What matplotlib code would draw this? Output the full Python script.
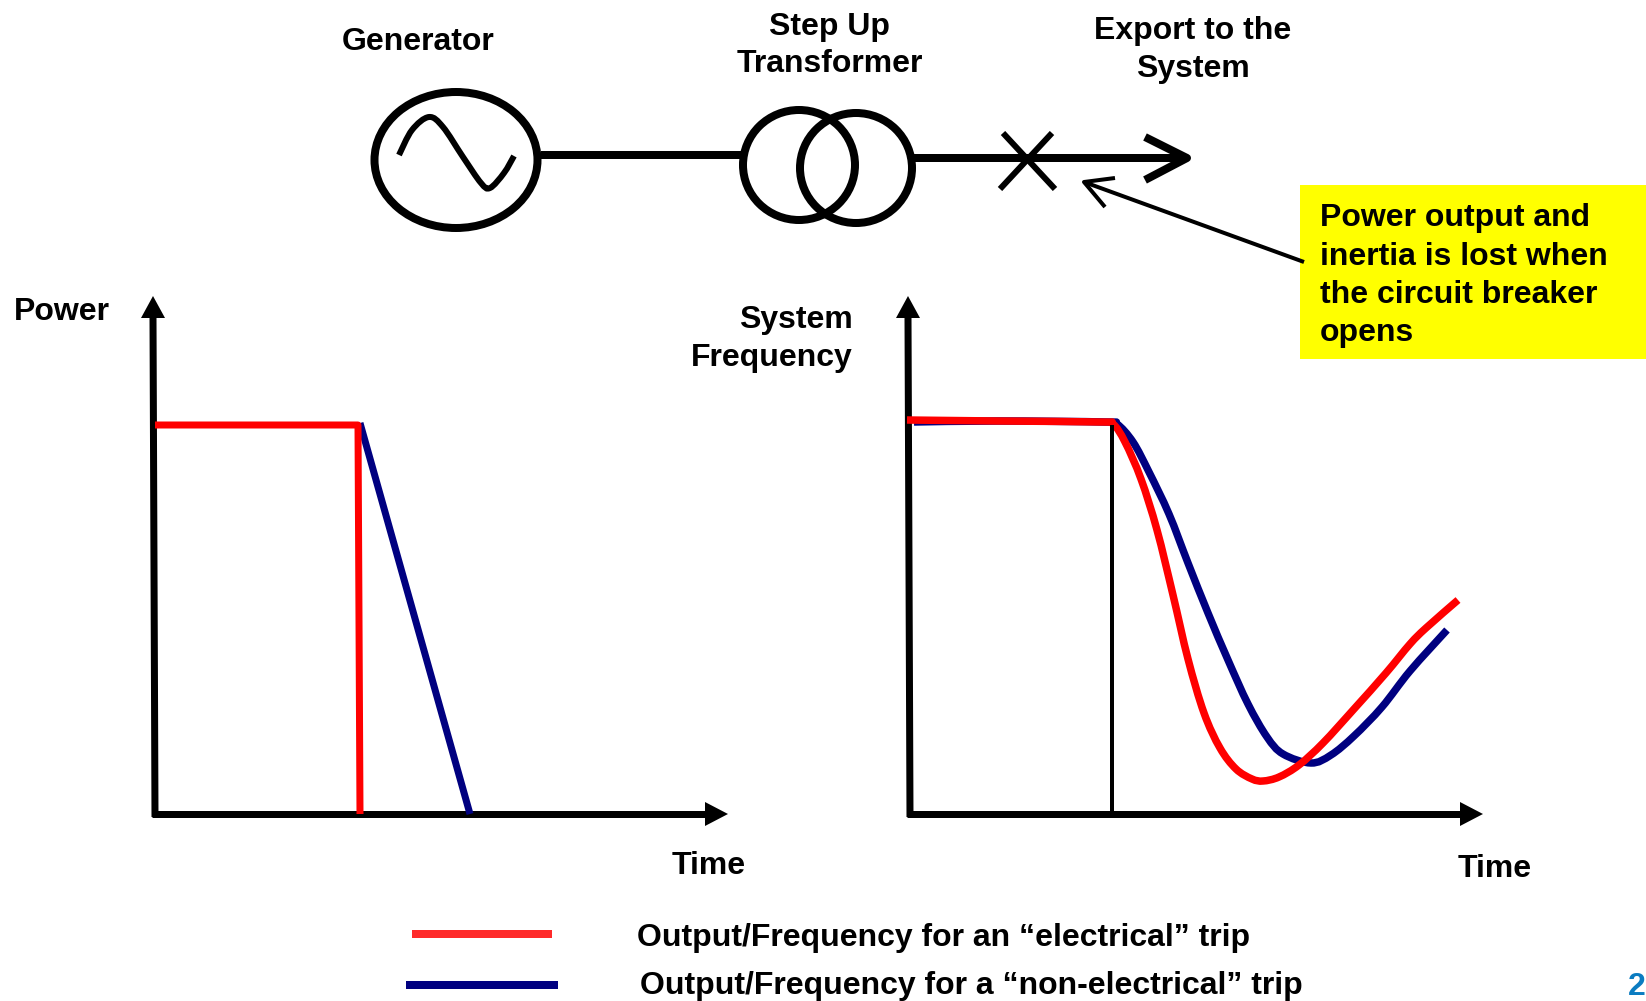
import matplotlib
matplotlib.use("Agg")
import matplotlib.pyplot as plt
from matplotlib.patches import Ellipse, PathPatch, Rectangle
from matplotlib.path import Path

W, H = 1646, 1001
RED = "#ff0000"
NAVY = "#000080"

# left panel, offsets from the axes origin in pixels
power_elec_t = [0, 203, 205]
power_elec_v = [389, 389, 0]
power_non_t = [205, 315]
power_non_v = [391, 0]

# right panel
freq_elec_t = [-3, 88, 190, 203, 215, 231, 247, 263, 278, 294, 310, 326, 342, 353, 369, 389, 413, 444, 476, 500, 516, 548]
freq_elec_v = [394, 393, 392, 390, 372, 335, 284, 219, 155, 101, 66, 45, 35, 33, 37, 49, 71, 105, 141, 170, 186, 214]
freq_non_t = [4, 88, 195, 207, 223, 239, 259, 278, 298, 318, 338, 357, 373, 401, 421, 444, 472, 500, 537]
freq_non_v = [392, 393, 392, 390, 372, 342, 300, 251, 201, 154, 110, 77, 60, 51, 59, 78, 107, 143, 184]
trip_t = 202
trip_v = 389

sine_x = [399, 412, 429, 443, 463, 481, 490, 504, 514]
sine_y = [155, 130, 117, 127, 157, 183, 188, 173, 156]

legend_labels = ["Output/Frequency for an \u201celectrical\u201d trip",
                 "Output/Frequency for a \u201cnon-electrical\u201d trip"]

plt.rcParams["font.family"] = ["Liberation Sans", "DejaVu Sans"]
plt.rcParams["font.weight"] = "bold"
FS = 23

fig = plt.figure(figsize=(W / 100, H / 100), dpi=100)
ax = fig.add_axes([0, 0, 1, 1])
ax.set_xlim(0, W)
ax.set_ylim(H, 0)
ax.axis("off")


def px(w):
    return w * 0.72


def line(xs, ys, w, color="black", target=ax):
    target.plot(xs, ys, color=color, lw=px(w), solid_capstyle="butt", solid_joinstyle="round", clip_on=False)


def smooth(xs, ys, w, color="black", target=ax):
    # curve through the read points, drawn as bezier segments
    pts = list(zip(xs, ys))
    verts = [pts[0]]
    codes = [Path.MOVETO]
    for i in range(len(pts) - 1):
        p0 = pts[max(i - 1, 0)]
        p1 = pts[i]
        p2 = pts[i + 1]
        p3 = pts[min(i + 2, len(pts) - 1)]
        c1 = (p1[0] + (p2[0] - p0[0]) / 6, p1[1] + (p2[1] - p0[1]) / 6)
        c2 = (p2[0] - (p3[0] - p1[0]) / 6, p2[1] - (p3[1] - p1[1]) / 6)
        verts += [c1, c2, p2]
        codes += [Path.CURVE4] * 3
    target.add_patch(PathPatch(Path(verts, codes), fill=False, ec=color, lw=px(w),
                               capstyle="butt", joinstyle="round", clip_on=False))


# diagram across the top
ax.add_patch(Ellipse((456, 160), 163, 136, fill=False, ec="black", lw=px(8)))
ax.add_patch(Ellipse((799, 165), 112, 110, fill=False, ec="black", lw=px(8)))
ax.add_patch(Ellipse((856, 168), 112, 110, fill=False, ec="black", lw=px(8)))
smooth(sine_x, sine_y, 6)
line([541, 742], [155, 155], 8)
line([914, 1183], [158, 158], 8)
line([1145, 1187, 1145], [137, 158, 180], 8)
line([1003, 1055], [133, 189], 6)
line([1052, 1000], [133, 189], 6)

ax.add_patch(Rectangle((1300, 185), 346, 174, fc="#ffff00", ec="none"))
line([1304, 1084], [262, 182], 4)
line([1115, 1084, 1105], [178, 182, 207], 4)

ax.text(418, 42, "Generator", fontsize=FS, ha="center", va="center")
ax.text(830, 27, "Step Up", fontsize=FS, ha="center", va="center")
ax.text(830, 64, "Transformer", fontsize=FS, ha="center", va="center")
ax.text(1193, 31, "Export to the", fontsize=FS, ha="center", va="center")
ax.text(1193, 69, "System", fontsize=FS, ha="center", va="center")
for y, s in zip([218, 257, 295, 333], ["Power output and", "inertia is lost when", "the circuit breaker", "opens"]):
    ax.text(1320, y, s, fontsize=FS, ha="left", va="center")
ax.text(62, 312, "Power", fontsize=FS, ha="center", va="center")
ax.text(853, 320, "System", fontsize=FS, ha="right", va="center")
ax.text(853, 358, "Frequency", fontsize=FS, ha="right", va="center")
ax.text(709, 866, "Time", fontsize=FS, ha="center", va="center")
ax.text(1495, 869, "Time", fontsize=FS, ha="center", va="center")

# axes arrows
for x0, x_top, x_end in [(155, 153, 728), (910, 908, 1483)]:
    line([x0, x_top], [817, 318], 7)
    ax.fill([x_top - 12, x_top + 12, x_top], [318, 318, 296], color="black", lw=0)
    line([x0 - 3, x_end - 23], [814, 814], 7)
    ax.fill([x_end - 23, x_end - 23, x_end], [802, 826, 814], color="black", lw=0)

# the two panels, one data unit is one pixel
ax_p = fig.add_axes([155 / W, 1 - 814 / H, 573 / W, 518 / H])
ax_f = fig.add_axes([910 / W, 1 - 814 / H, 573 / W, 518 / H])
for a in (ax_p, ax_f):
    a.set_xlim(0, 573)
    a.set_ylim(0, 518)
    a.axis("off")

line(power_non_t, power_non_v, 7, NAVY, ax_p)
line(power_elec_t, power_elec_v, 7, RED, ax_p)

line([trip_t, trip_t], [0, trip_v], 4, "black", ax_f)
smooth(freq_non_t, freq_non_v, 7.5, NAVY, ax_f)
smooth(freq_elec_t, freq_elec_v, 7.5, RED, ax_f)

# legend
line([412, 552], [934, 934], 8, "#ff2a2a")
line([406, 558], [985, 985], 8, NAVY)
ax.text(637, 938, legend_labels[0], fontsize=FS, ha="left", va="center")
ax.text(640, 986, legend_labels[1], fontsize=FS, ha="left", va="center")
ax.text(1628, 987, "2", fontsize=FS, color="#0b7cc1", ha="left", va="center")

fig.savefig("out.png", dpi=100)
